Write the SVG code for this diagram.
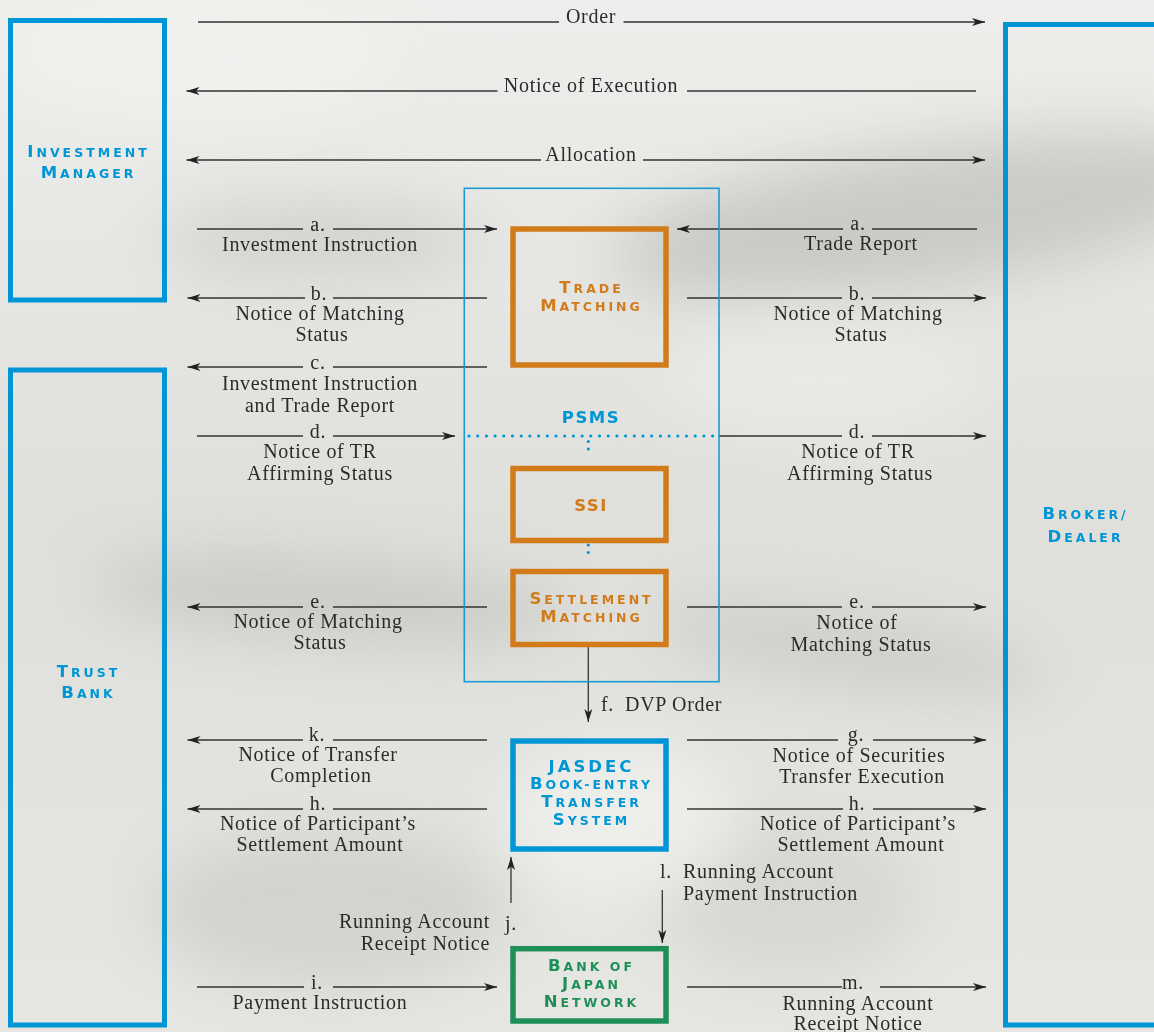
<svg xmlns="http://www.w3.org/2000/svg" width="1154" height="1032" viewBox="0 0 1154 1032">
<defs>
<marker id="ah" markerUnits="userSpaceOnUse" markerWidth="14" markerHeight="10" viewBox="0 -5 14 10" refX="13" refY="0" orient="auto"><path d="M0,-4 L13,0 L0,4 L3.5,0 z" fill="#222"/></marker>
<filter id="blur" x="-50%" y="-50%" width="200%" height="200%"><feGaussianBlur stdDeviation="30"/></filter>
<linearGradient id="bg" x1="0" y1="0" x2="0" y2="1"><stop offset="0" stop-color="#eeefec"/><stop offset="0.5" stop-color="#dfe0dc"/><stop offset="1" stop-color="#e6e7e3"/></linearGradient>
<style>
.ln{stroke:#333;stroke-width:1.3;fill:none}
.ar{marker-end:url(#ah)}
.t{font-family:"Liberation Serif",serif;font-size:20px;fill:#2b2b2b;letter-spacing:0.7px;text-anchor:middle}
.ts{font-family:"Liberation Serif",serif;font-size:20px;fill:#2b2b2b;letter-spacing:0.7px}
.te{font-family:"Liberation Serif",serif;font-size:20px;fill:#2b2b2b;letter-spacing:0.7px;text-anchor:end}
.n{font-family:"DejaVu Sans",sans-serif;font-weight:bold;font-size:16.5px;letter-spacing:3px;text-anchor:middle}
.s{font-size:12.5px}
.blue{fill:#0096d6}.orange{fill:#d27b1b}.green{fill:#1f8f58}
.bb{fill:none;stroke:#0096d6;stroke-width:5}
.ob{fill:none;stroke:#d27b1b;stroke-width:5.5}
.gb{fill:none;stroke:#1f8f58;stroke-width:5.5}
</style>
</defs>
<rect width="1154" height="1032" fill="url(#bg)"/>
<g filter="url(#blur)" opacity="0.4">
<ellipse cx="930" cy="215" rx="320" ry="70" transform="rotate(-8 930 215)" fill="#9e9f9a"/>
<ellipse cx="320" cy="240" rx="160" ry="40" fill="#b5b6b1"/>
<ellipse cx="330" cy="600" rx="240" ry="40" transform="rotate(4 330 600)" fill="#a9aaa5"/>
<ellipse cx="850" cy="650" rx="200" ry="35" transform="rotate(8 850 650)" fill="#b0b1ac"/>
<ellipse cx="330" cy="910" rx="180" ry="80" fill="#b9bab5"/>
<ellipse cx="790" cy="900" rx="130" ry="80" fill="#c3c4bf"/>
</g>
<g filter="url(#blur)" opacity="0.6">
<ellipse cx="620" cy="820" rx="120" ry="80" fill="#f4f5f2"/>
<ellipse cx="820" cy="380" rx="160" ry="60" fill="#eceee9"/>
<ellipse cx="200" cy="60" rx="200" ry="60" fill="#f3f4f1"/>
</g>

<g id="connectors">
<line class="ln" x1="198" y1="22" x2="559" y2="22"/><line class="ln ar" x1="623.5" y1="22" x2="985" y2="22"/>
<line class="ln ar" x1="497.5" y1="91" x2="186.5" y2="91"/><line class="ln" x1="687" y1="91" x2="976" y2="91"/>
<line class="ln ar" x1="541" y1="160" x2="186.5" y2="160"/><line class="ln ar" x1="643" y1="160" x2="985" y2="160"/>
<line class="ln" x1="197" y1="229" x2="303" y2="229"/><line class="ln ar" x1="333" y1="229" x2="497" y2="229"/>
<line class="ln ar" x1="843" y1="229" x2="677" y2="229"/><line class="ln" x1="872" y1="229" x2="977" y2="229"/>
<line class="ln ar" x1="305" y1="298" x2="187.5" y2="298"/><line class="ln" x1="333" y1="298" x2="487" y2="298"/>
<line class="ln" x1="687" y1="298" x2="842" y2="298"/><line class="ln ar" x1="872" y1="298" x2="986" y2="298"/>
<line class="ln ar" x1="303" y1="367" x2="187.5" y2="367"/><line class="ln" x1="333" y1="367" x2="487" y2="367"/>
<line class="ln" x1="197" y1="436" x2="303" y2="436"/><line class="ln ar" x1="333" y1="436" x2="455" y2="436"/>
<line class="ln" x1="719" y1="436" x2="842" y2="436"/><line class="ln ar" x1="872" y1="436" x2="986" y2="436"/>
<line class="ln ar" x1="303" y1="607" x2="187.5" y2="607"/><line class="ln" x1="333" y1="607" x2="487" y2="607"/>
<line class="ln" x1="687" y1="607" x2="842" y2="607"/><line class="ln ar" x1="872" y1="607" x2="986" y2="607"/>
<line class="ln ar" x1="588.3" y1="647" x2="588.3" y2="722"/>
<line class="ln ar" x1="303" y1="740" x2="187.5" y2="740"/><line class="ln" x1="333" y1="740" x2="487" y2="740"/>
<line class="ln" x1="687" y1="740" x2="838" y2="740"/><line class="ln ar" x1="873" y1="740" x2="986" y2="740"/>
<line class="ln ar" x1="303" y1="809" x2="187.5" y2="809"/><line class="ln" x1="333" y1="809" x2="487" y2="809"/>
<line class="ln" x1="687" y1="809" x2="843" y2="809"/><line class="ln ar" x1="873" y1="809" x2="986" y2="809"/>
<line class="ln ar" x1="662.3" y1="890" x2="662.3" y2="943"/>
<line class="ln ar" x1="511" y1="903" x2="511" y2="857"/>
<line class="ln" x1="197" y1="987" x2="304" y2="987"/><line class="ln ar" x1="333" y1="987" x2="497" y2="987"/>
<line class="ln" x1="687" y1="987" x2="842" y2="987"/><line class="ln ar" x1="880" y1="987" x2="986" y2="987"/>
</g>

<g id="labels">
<text class="t" x="591" y="23">Order</text>
<text class="t" x="591" y="92">Notice of Execution</text>
<text class="t" x="591" y="161">Allocation</text>
<text class="t" x="318" y="231">a.</text><text class="t" x="320" y="251">Investment Instruction</text>
<text class="t" x="858" y="230">a.</text><text class="t" x="861" y="250">Trade Report</text>
<text class="t" x="319" y="300">b.</text><text class="t" x="320" y="320">Notice of Matching</text><text class="t" x="322" y="341">Status</text>
<text class="t" x="857" y="300">b.</text><text class="t" x="858" y="320">Notice of Matching</text><text class="t" x="861" y="341">Status</text>
<text class="t" x="318" y="369">c.</text><text class="t" x="320" y="390">Investment Instruction</text><text class="t" x="320" y="412">and Trade Report</text>
<text class="t" x="318" y="438">d.</text><text class="t" x="320" y="458">Notice of TR</text><text class="t" x="320" y="480">Affirming Status</text>
<text class="t" x="857" y="438">d.</text><text class="t" x="858" y="458">Notice of TR</text><text class="t" x="860" y="480">Affirming Status</text>
<text class="t" x="318" y="608">e.</text><text class="t" x="318" y="628">Notice of Matching</text><text class="t" x="320" y="649">Status</text>
<text class="t" x="857" y="608">e.</text><text class="t" x="857" y="629">Notice of</text><text class="t" x="861" y="651">Matching Status</text>
<text class="ts" x="601" y="711">f.</text><text class="ts" x="625" y="711">DVP Order</text>
<text class="t" x="317" y="741">k.</text><text class="t" x="318" y="761">Notice of Transfer</text><text class="t" x="321" y="782">Completion</text>
<text class="t" x="856" y="741">g.</text><text class="t" x="859" y="762">Notice of Securities</text><text class="t" x="862" y="783">Transfer Execution</text>
<text class="t" x="318" y="810">h.</text><text class="t" x="318" y="830">Notice of Participant’s</text><text class="t" x="320" y="851">Settlement Amount</text>
<text class="t" x="857" y="810">h.</text><text class="t" x="858" y="830">Notice of Participant’s</text><text class="t" x="861" y="851">Settlement Amount</text>
<text class="ts" x="660" y="878">l.</text><text class="ts" x="683" y="878">Running Account</text><text class="ts" x="683" y="900">Payment Instruction</text>
<text class="ts" x="505" y="930">j.</text><text class="te" x="490" y="928">Running Account</text><text class="te" x="490" y="950">Receipt Notice</text>
<text class="t" x="317" y="989">i.</text><text class="t" x="320" y="1009">Payment Instruction</text>
<text class="t" x="853" y="989">m.</text><text class="t" x="858" y="1010">Running Account</text><text class="t" x="858" y="1030">Receipt Notice</text>
</g>

<g id="investment-manager">
<rect class="bb" x="10.5" y="20.5" width="154" height="279.5"/>
<text class="n blue" x="88.5" y="157">I<tspan class="s">NVESTMENT</tspan></text>
<text class="n blue" x="88.5" y="178">M<tspan class="s">ANAGER</tspan></text>
</g>
<g id="trust-bank">
<rect class="bb" x="10.5" y="370" width="154" height="655"/>
<text class="n blue" x="88.5" y="677">T<tspan class="s">RUST</tspan></text>
<text class="n blue" x="88.5" y="698">B<tspan class="s">ANK</tspan></text>
</g>
<g id="broker-dealer">
<rect class="bb" x="1005.5" y="24.5" width="170" height="1000.5"/>
<text class="n blue" x="1085.5" y="519">B<tspan class="s">ROKER/</tspan></text>
<text class="n blue" x="1085.5" y="542">D<tspan class="s">EALER</tspan></text>
</g>
<g id="psms">
<rect x="464.3" y="188.3" width="254.7" height="493.4" fill="none" stroke="#1a9ad6" stroke-width="1.6"/>
<text class="n blue" x="591" y="423" style="letter-spacing:1.5px">PSMS</text>
<line x1="469" y1="436" x2="713" y2="436" stroke="#0096d6" stroke-width="3.2" stroke-linecap="round" stroke-dasharray="0 8.7"/>
<line x1="588.3" y1="441.5" x2="588.3" y2="456.5" stroke="#0096d6" stroke-width="3.2" stroke-linecap="round" stroke-dasharray="0 7.5"/>
<line x1="588.3" y1="545" x2="588.3" y2="560" stroke="#0096d6" stroke-width="3.2" stroke-linecap="round" stroke-dasharray="0 7.5"/>
</g>
<g id="trade-matching">
<rect class="ob" x="513" y="229" width="153" height="136"/>
<text class="n orange" x="591.5" y="293">T<tspan class="s">RADE</tspan></text>
<text class="n orange" x="591.5" y="311">M<tspan class="s">ATCHING</tspan></text>
</g>
<g id="ssi">
<rect class="ob" x="513" y="468.5" width="153" height="72"/>
<text class="n orange" x="591" y="511" style="letter-spacing:1.5px">SSI</text>
</g>
<g id="settlement-matching">
<rect class="ob" x="513" y="571.5" width="153" height="73"/>
<text class="n orange" x="591.5" y="604">S<tspan class="s">ETTLEMENT</tspan></text>
<text class="n orange" x="591.5" y="622">M<tspan class="s">ATCHING</tspan></text>
</g>
<g id="jasdec">
<rect x="513" y="741" width="153" height="108" fill="none" stroke="#0096d6" stroke-width="5.5"/>
<text class="n blue" x="591.5" y="772">JASDEC</text>
<text class="n blue" x="591.5" y="789">B<tspan class="s">OOK-ENTRY</tspan></text>
<text class="n blue" x="591.5" y="807">T<tspan class="s">RANSFER</tspan></text>
<text class="n blue" x="591.5" y="825">S<tspan class="s">YSTEM</tspan></text>
</g>
<g id="bank-of-japan">
<rect class="gb" x="513" y="948.7" width="153" height="72.3"/>
<text class="n green" x="591.5" y="971">B<tspan class="s">ANK OF</tspan></text>
<text class="n green" x="591.5" y="989">J<tspan class="s">APAN</tspan></text>
<text class="n green" x="591.5" y="1007">N<tspan class="s">ETWORK</tspan></text>
</g>
</svg>
